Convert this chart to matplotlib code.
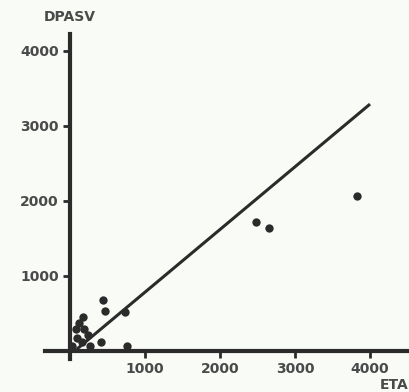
import matplotlib.pyplot as plt

# ETA vs DPASV
eta = [2480, 2650, 3830, 440, 467, 733, 413, 760,
       173, 120, 80, 187, 240, 93, 160, 27, 267]
dpasv = [1720, 1640, 2070, 680, 533, 520, 120, 67,
         453, 373, 293, 293, 213, 173, 120, 67, 67]

# regression line
slope = 0.836
intercept = -52
line_x = [90, 4000]
line_y = [slope * v + intercept for v in line_x]

xticks = [1000, 2000, 3000, 4000]
yticks = [1000, 2000, 3000, 4000]

ink = '#2b2b2b'
txt = '#4a4a4a'

fig = plt.figure(figsize=(4.1, 3.92), dpi=100, facecolor='#f9fbf7')
ax = fig.add_axes([0, 0, 1, 1])
ax.set_facecolor('#f9fbf7')

ax.plot(line_x, line_y, color=ink, lw=2.2, solid_capstyle='butt')
ax.plot(eta, dpasv, 'o', color=ink, ms=6, mec='none')

ax.set_xlim(-933, 4533)
ax.set_ylim(-547, 4680)

for s in ['top', 'right']:
    ax.spines[s].set_visible(False)
ax.spines['left'].set_position(('data', 0))
ax.spines['bottom'].set_position(('data', 0))
ax.spines['left'].set_bounds(-110, 4230)
ax.spines['bottom'].set_bounds(-330, 4533)
for s in ['left', 'bottom']:
    ax.spines[s].set_linewidth(3)
    ax.spines[s].set_color(ink)

ax.set_xticks(xticks)
ax.set_yticks(yticks)
ax.set_xticklabels([str(v) for v in xticks])
ax.set_yticklabels([str(v) for v in yticks])
ax.tick_params(direction='out', length=5, width=2, color=ink,
               labelsize=10, labelcolor=txt, pad=3)
for lab in ax.get_xticklabels() + ax.get_yticklabels():
    lab.set_fontweight('bold')

ax.text(0, 4450, 'DPASV', ha='center', va='center', fontsize=10,
        fontweight='bold', color=txt)
ax.text(4515, -460, 'ETA', ha='right', va='center', fontsize=10,
        fontweight='bold', color=txt)

plt.savefig('out.png', dpi=100, facecolor=fig.get_facecolor())
